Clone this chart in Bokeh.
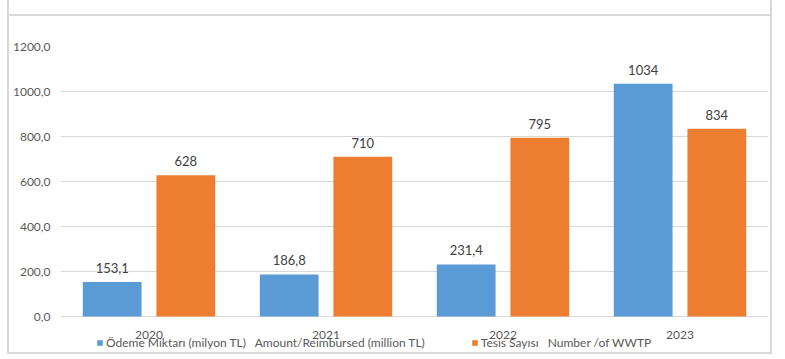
from bokeh.plotting import figure
from bokeh.models import ColumnDataSource, FactorRange, FixedTicker, LabelSet, Legend, LegendItem, Range1d
from bokeh.core.properties import value
from bokeh.transform import dodge
from bokeh.embed import file_html
from bokeh.resources import INLINE

years = ["2020", "2021", "2022", "2023"]
payment = [153.1, 186.8, 231.4, 1034]
payment_labels = ["153,1", "186,8", "231,4", "1034"]
plants = [628, 710, 795, 834]
plants_labels = ["628", "710", "795", "834"]
y_ticks = [0, 200, 400, 600, 800, 1000, 1200]
y_tick_labels = ["0,0", "200,0", "400,0", "600,0", "800,0", "1000,0", "1200,0"]
series_names = ["Ödeme Miktarı (milyon TL)\u00a0\u00a0\u00a0Amount/Reimbursed (million TL)",
                "Tesis Sayısı\u00a0\u00a0\u00a0Number /of WWTP"]

BLUE = "#5B9BD5"
ORANGE = "#ED7D31"
FONT = "Lato"

src = ColumnDataSource(dict(year=years, payment=payment, plabel=payment_labels,
                            plants=plants, tlabel=plants_labels))

p = figure(x_range=FactorRange(*years, range_padding=0), y_range=Range1d(-151.1, 1200),
           frame_width=708, frame_height=304, output_backend="svg", toolbar_location=None,
           min_border_left=46, min_border_right=2, min_border_top=46, min_border_bottom=2,
           styles={"border": "2px solid #d9d9d9", "border-top": "none",
                   "background": "linear-gradient(to bottom, white 0px, white 14px, #d9d9d9 14px, #d9d9d9 16px, white 16px)",
                   "position": "relative", "left": "7px"})
p.border_fill_color = None
p.background_fill_color = "white"
p.outline_line_color = None
p.xgrid.grid_line_color = None
p.ygrid.grid_line_color = "#d9d9d9"
p.ygrid.ticker = FixedTicker(ticks=y_ticks)

p.yaxis.ticker = FixedTicker(ticks=y_ticks)
p.yaxis.major_label_overrides = {t: l for t, l in zip(y_ticks, y_tick_labels)}
p.yaxis.axis_line_color = None
p.yaxis.major_tick_line_color = None
p.yaxis.minor_tick_line_color = None
p.yaxis.major_tick_out = 0
p.yaxis.major_label_text_font = FONT
p.yaxis.major_label_text_font_size = "12px"
p.yaxis.major_label_text_color = "#595959"
p.yaxis.major_label_standoff = 10

p.xaxis.axis_line_color = None
p.xaxis.major_tick_line_color = None
p.xaxis.major_tick_out = 0
p.xaxis.major_label_text_font = FONT
p.xaxis.major_label_text_font_size = "12px"
p.xaxis.major_label_text_color = "#595959"
p.xaxis.major_label_standoff = -20

r1 = p.vbar(x=dodge("year", -0.208, range=p.x_range), top="payment", width=0.332,
            source=src, color=BLUE, line_color=None)
r2 = p.vbar(x=dodge("year", 0.208, range=p.x_range), top="plants", width=0.332,
            source=src, color=ORANGE, line_color=None)

for col, lab, off in [("payment", "plabel", -0.208), ("plants", "tlabel", 0.208)]:
    ls = LabelSet(x=dodge("year", off, range=p.x_range), y=col, text=lab, source=src,
                  text_align="center", text_baseline="bottom", y_offset=9,
                  text_font=value(FONT), text_font_size="13px", text_color="#404040")
    p.add_layout(ls)

legend = Legend(items=[LegendItem(label=series_names[0], renderers=[r1]),
                       LegendItem(label=series_names[1], renderers=[r2])],
                orientation="horizontal", location=(36, 0), spacing=46,
                glyph_width=7, glyph_height=7, label_standoff=3,
                label_text_font=FONT, label_text_font_size="12px", label_text_color="#595959",
                padding=0, margin=0, border_line_color=None, background_fill_alpha=0,
                label_height=12)
p.add_layout(legend, "center")

open("out.html", "w").write(file_html(p, INLINE))
